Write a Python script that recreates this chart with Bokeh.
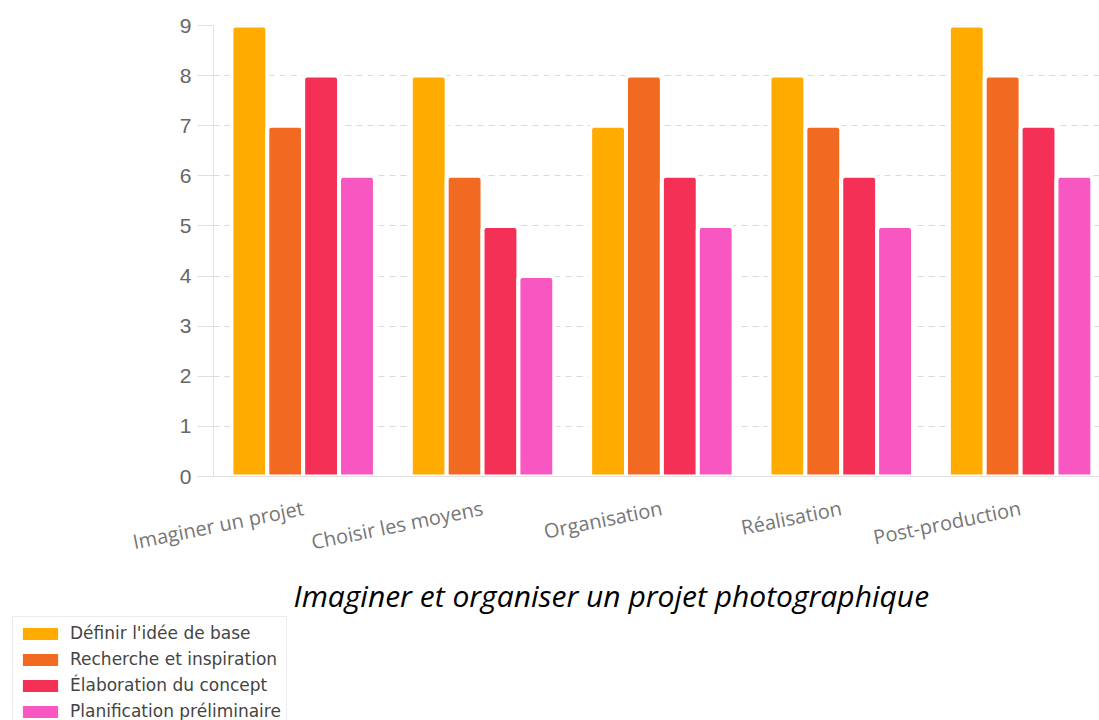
from bokeh.plotting import figure
from bokeh.models import ColumnDataSource, Range1d, FixedTicker, Legend, LegendItem, Title
from bokeh.layouts import column
from bokeh.transform import dodge
from bokeh.embed import file_html
from bokeh.resources import INLINE

categories = ["Imaginer un projet", "Choisir les moyens", "Organisation", "Réalisation", "Post-production"]
series_names = ["Définir l'idée de base", "Recherche et inspiration", "Élaboration du concept", "Planification préliminaire"]
definir = [9, 8, 7, 8, 9]
recherche = [7, 6, 8, 7, 8]
elaboration = [8, 5, 6, 6, 7]
planification = [6, 4, 5, 5, 6]
colors = ["#FFAB00", "#F26A21", "#F43056", "#F857C1"]
y_ticks = [0, 1, 2, 3, 4, 5, 6, 7, 8, 9]
title_text = "Imaginer et organiser un projet photographique"

xpos = [i + 0.5 for i in range(len(categories))]
source = ColumnDataSource(dict(x=xpos, s0=definir, s1=recherche, s2=elaboration, s3=planification))
cols = ["s0", "s1", "s2", "s3"]

p = figure(width=1099, height=616, x_range=Range1d(0, 4.94), y_range=Range1d(0, 9),
           output_backend="svg", toolbar_location=None,
           min_border_left=213, min_border_right=0, min_border_top=25, min_border_bottom=140)
p.frame_align = False
p.outline_line_color = None
p.background_fill_color = "white"

offsets = [-0.3, -0.1, 0.1, 0.3]
for col, off, c in zip(cols, offsets, colors):
    p.vbar(x=dodge("x", off, range=p.x_range), top=col, width=0.2, bottom=0,
           source=source, fill_color=c, line_color="white", line_width=4,
           border_radius=(4, 4, 0, 0))

# grid
p.xgrid.grid_line_color = None
p.ygrid.grid_line_color = "#d9d9d9"
p.ygrid.grid_line_dash = "6 5"
p.ygrid.grid_line_width = 1

# y axis
p.yaxis.ticker = FixedTicker(ticks=y_ticks)
p.yaxis.axis_line_color = "#e0e0e0"
p.yaxis.major_tick_line_color = "#e0e0e0"
p.yaxis.major_tick_out = 16
p.yaxis.major_tick_in = 0
p.yaxis.minor_tick_line_color = None
p.yaxis.major_label_standoff = 6
p.yaxis.major_label_text_font = "Liberation Sans"
p.yaxis.major_label_text_font_size = "21px"
p.yaxis.major_label_text_color = "#666666"

# x axis
p.xaxis.ticker = FixedTicker(ticks=xpos)
p.xaxis.major_label_overrides = {x: c for x, c in zip(xpos, categories)}
p.xaxis.axis_line_color = "#e0e0e0"
p.xaxis.major_tick_line_color = None
p.xaxis.minor_tick_line_color = None
p.xaxis.major_tick_out = 0
p.xaxis.major_tick_in = 0
p.xaxis.major_label_orientation = 0.2
p.xaxis.major_label_standoff = 31
p.xaxis.major_label_text_font = "Open Sans"
p.xaxis.major_label_text_font_size = "20px"
p.xaxis.major_label_text_color = "#777777"

# title below
t = Title(text=title_text, align="left", offset=80, text_font="Open Sans",
          text_font_style="italic", text_font_size="30px", text_color="black",
          text_line_height=0.8, standoff=2)
p.add_layout(t, "below")

# legend figure
q = figure(width=1099, height=104, x_range=Range1d(100, 101), y_range=Range1d(100, 101),
           output_backend="svg", toolbar_location=None,
           x_axis_location=None, y_axis_location=None, min_border=0,
           min_border_left=0, min_border_right=0, min_border_top=0, min_border_bottom=0)
q.frame_align = False
q.outline_line_color = None
q.grid.visible = False
leg_renderers = [q.vbar(x="x", top=col, width=0.1, source=source, fill_color=c, line_color=None)
                 for col, c in zip(cols, colors)]
legend = Legend(items=[LegendItem(label=n, renderers=[r]) for n, r in zip(series_names, leg_renderers)],
                location=(12, -8), orientation="vertical",
                label_text_font="DejaVu Sans", label_text_font_size="17px", label_text_color="#444444",
                glyph_width=44, glyph_height=15, label_height=22, label_standoff=8,
                spacing=4, padding=5, margin=0,
                border_line_color="#d8d8d8", border_line_width=1,
                background_fill_color="white", background_fill_alpha=1.0)
q.add_layout(legend, "center")

layout = column(p, q, spacing=0)
open("out.html", "w").write(file_html(layout, INLINE))
